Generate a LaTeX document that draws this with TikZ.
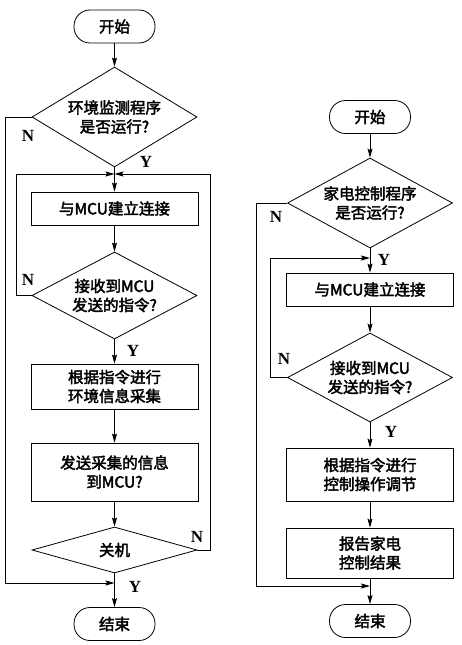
\documentclass[tikz,border=0pt]{standalone}
\usepackage{fontspec}
\setmainfont{Liberation Serif}
\newfontfamily\cjk[FakeBold=2.5]{Noto Sans CJK SC}
\usepackage{tikz}
\usetikzlibrary{shapes.geometric,arrows.meta,positioning,calc}
\tikzstyle{term} = [draw,rounded corners=16pt,minimum width=81pt,minimum height=33pt,inner sep=0pt,font=\cjk\fontsize{15.5}{19}\selectfont]
\tikzstyle{proc} = [draw,rectangle,minimum width=167pt,inner sep=0pt,align=center,font=\cjk\fontsize{15.5}{19}\selectfont]
\tikzstyle{test} = [draw,diamond,minimum width=165pt,inner sep=0pt,align=center,font=\cjk\fontsize{15.5}{19}\selectfont]
\tikzstyle{yn} = [font=\fontsize{17}{20}\selectfont\bfseries]
\tikzset{>={Stealth[length=9pt,width=5pt,inset=1.5pt]}}

\begin{document}
\begin{tikzpicture}[x=1pt,y=-1pt,line width=0.8pt]
    \useasboundingbox (0,0) rectangle (462,645);

    % left chart
    \node [term] (ls) at (114.5,26.5) {开始};
    \node [test,minimum height=100pt,aspect=1.65] (ld1) at (114.5,117) {环境监测程序\\是否运行?};
    \node [proc,minimum height=33pt] (lb1) at (114.5,208.5) {与MCU建立连接};
    \node [test,minimum height=87pt,aspect=1.9] (ld2) at (114.5,295.5) {接收到MCU\\发送的指令?};
    \node [proc,minimum height=45pt] (lb2) at (114.5,386.5) {根据指令进行\\环境信息采集};
    \node [proc,minimum height=58pt] (lb3) at (114.5,472) {发送采集的信息\\到MCU?};
    \node [test,minimum height=46pt,aspect=3.6] (ld3) at (114.5,550) {关机};
    \node [term] (le) at (114.5,624) {结束};

    \coordinate (lm1) at (114.5,174);
    \coordinate (lm2) at (114.5,583);
    \coordinate (lout) at (5,583);
    \coordinate (lin) at (16,174);
    \coordinate (lback) at (210,174);

    \draw [->] (ls) -- (ld1);
    \draw [->] (ld1) -- (lb1);
    \draw [->] (lb1) -- (ld2);
    \draw [->] (ld2) -- (lb2);
    \draw [->] (lb2) -- (lb3);
    \draw [->] (lb3) -- (ld3);
    \draw [->] (ld3) -- (le);
    \draw [->] (ld1.west) -| (lout) -- (lm2);
    \draw [->] (ld2.west) -| (lin) -- (lm1);
    \draw [->] (ld3.east) -| (lback) -- (lm1);

    \node [yn] (ln1) at (28,136) {N};
    \node [yn] (ly1) at (146,162) {Y};
    \node [yn] (ln2) at (28,280) {N};
    \node [yn] (ly2) at (133,351) {Y};
    \node [yn] (ln3) at (197,537) {N};
    \node [yn] (ly3) at (135,587) {Y};

    % right chart
    \node [term] (rs) at (370,117) {开始};
    \node [test,minimum height=90pt,aspect=1.8] (rd1) at (370,203) {家电控制程序\\是否运行?};
    \node [proc,minimum height=33pt] (rb1) at (370,289.5) {与MCU建立连接};
    \node [test,minimum height=89pt,aspect=1.85] (rd2) at (370,377.5) {接收到MCU\\发送的指令?};
    \node [proc,minimum height=53pt] (rb2) at (370,474.5) {根据指令进行\\控制操作调节};
    \node [proc,minimum height=50pt] (rb3) at (370,553) {报告家电\\控制结果};
    \node [term] (re) at (370,621) {结束};

    \coordinate (rm1) at (370,258);
    \coordinate (rm2) at (370,586);
    \coordinate (rout) at (256,586);
    \coordinate (rin) at (270,258);

    \draw [->] (rs) -- (rd1);
    \draw [->] (rd1) -- (rb1);
    \draw [->] (rb1) -- (rd2);
    \draw [->] (rd2) -- (rb2);
    \draw [->] (rb2) -- (rb3);
    \draw [->] (rb3) -- (re);
    \draw [->] (rd1.west) -| (rout) -- (rm2);
    \draw [->] (rd2.west) -| (rin) -- (rm1);

    \node [yn] (rn1) at (276,217) {N};
    \node [yn] (ry1) at (384,260) {Y};
    \node [yn] (rn2) at (284,359) {N};
    \node [yn] (ry2) at (391,432) {Y};
\end{tikzpicture}
\end{document}
